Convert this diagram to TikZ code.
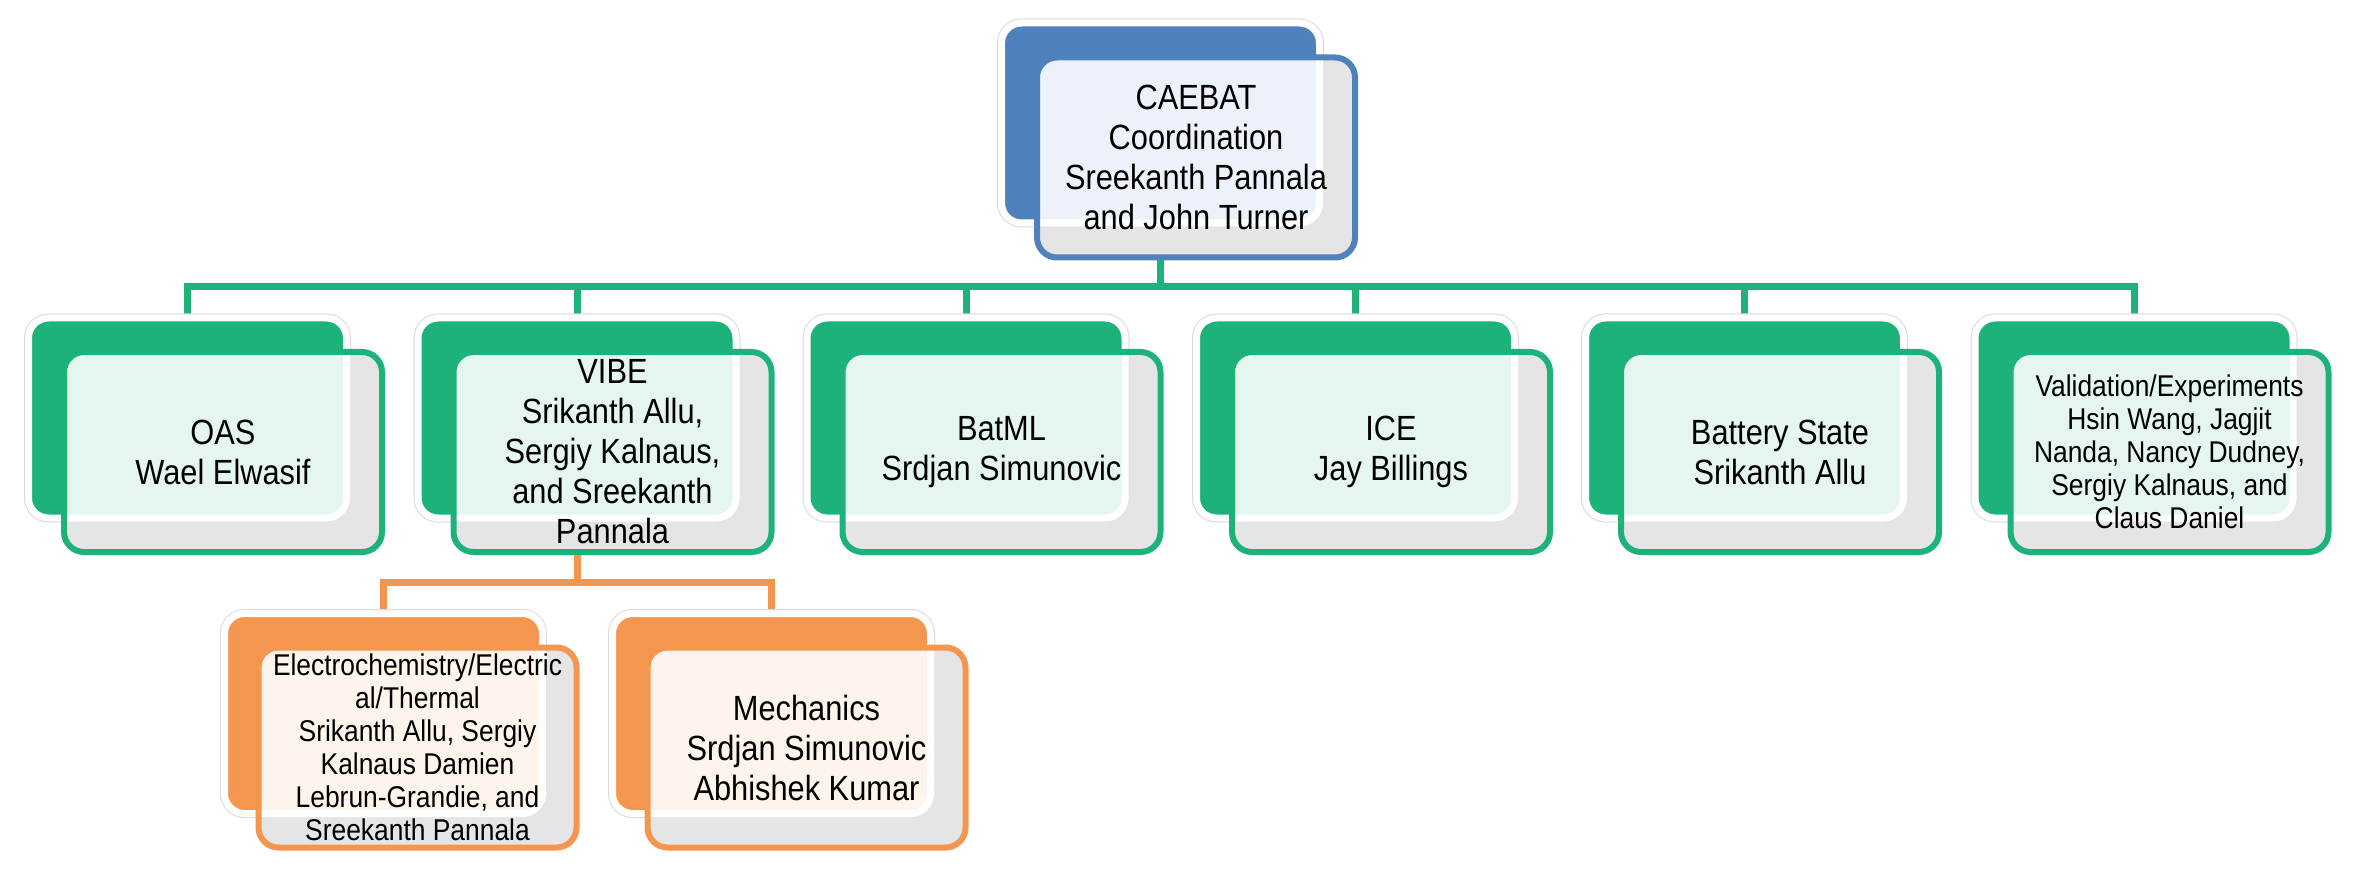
\documentclass[tikz,border=0pt]{standalone}
\usepackage{fontspec}
\setmainfont{Liberation Sans}[FakeStretch=0.88]
\usepackage{tikz}
\usetikzlibrary{
	backgrounds,
}
\definecolor{caeblue}{RGB}{79,129,189}
\definecolor{caegreen}{RGB}{29,178,122}
\definecolor{caeorange}{RGB}{244,150,80}
\definecolor{bluetint}{RGB}{237,241,249}
\definecolor{greentint}{RGB}{228,246,239}
\definecolor{orangetint}{RGB}{253,244,235}
\definecolor{boxgray}{RGB}{229,229,229}

\begin{document}
\begin{tikzpicture}[
		x=1pt, y=-1pt,
		backbox/.style={
				minimum width=318pt, minimum height=200pt,
				inner sep=0pt, outer sep=0pt,
				rounded corners=20pt, line width=7pt,
				fill=#1, draw=white,
				preaction={draw=black!15, line width=9pt},
			},
		frontbox/.style n args={3}{
				minimum width=318pt, minimum height=200pt,
				inner sep=0pt, outer sep=0pt,
				rounded corners=20pt, line width=6pt,
				fill=boxgray, draw=#1, align=center,
				path picture={
						\draw[draw=white, line width=7pt, fill=#2, rounded corners=20pt]
						(#3.south west) rectangle (#3.north east);
					},
			},
		conn/.style={draw=#1, line width=7pt},
		bigtext/.style={font=\fontsize{35}{40}\selectfont},
		smalltext/.style={font=\fontsize{30}{33}\selectfont},
	]
	\useasboundingbox (0,0) rectangle (2358,874);

	% top level
	\node[backbox=caeblue] (caebat-bk) at (1160.5,123) {};
	\node[frontbox={caeblue}{bluetint}{caebat-bk}, bigtext] (caebat) at ([shift={(35.5,34.5)}]caebat-bk)
	{CAEBAT\\Coordination\\Sreekanth Pannala\\and John Turner};

	% second level
	\node[backbox=caegreen] (oas-bk) at (187.5,418) {};
	\node[frontbox={caegreen}{greentint}{oas-bk}, bigtext] (oas) at ([shift={(35.5,34)}]oas-bk)
	{OAS\\Wael Elwasif};

	\node[backbox=caegreen] (vibe-bk) at (577,418) {};
	\node[frontbox={caegreen}{greentint}{vibe-bk}, bigtext] (vibe) at ([shift={(35.5,34)}]vibe-bk)
	{VIBE\\Srikanth Allu,\\Sergiy Kalnaus,\\and Sreekanth\\Pannala};

	\node[backbox=caegreen] (batml-bk) at (966,418) {};
	\node[frontbox={caegreen}{greentint}{batml-bk}, bigtext] (batml) at ([shift={(35.5,34)}]batml-bk)
	{BatML\\Srdjan Simunovic};

	\node[backbox=caegreen] (ice-bk) at (1355.5,418) {};
	\node[frontbox={caegreen}{greentint}{ice-bk}, bigtext] (ice) at ([shift={(35.5,34)}]ice-bk)
	{ICE\\Jay Billings};

	\node[backbox=caegreen] (state-bk) at (1744.5,418) {};
	\node[frontbox={caegreen}{greentint}{state-bk}, bigtext] (state) at ([shift={(35.5,34)}]state-bk)
	{Battery State\\Srikanth Allu};

	\node[backbox=caegreen] (valid-bk) at (2134,418) {};
	\node[frontbox={caegreen}{greentint}{valid-bk}, smalltext] (valid) at ([shift={(35.5,34)}]valid-bk)
	{Validation/Experiments\\Hsin Wang, Jagjit\\Nanda, Nancy Dudney,\\Sergiy Kalnaus, and\\Claus Daniel};

	% third level
	\node[backbox=caeorange] (echem-bk) at (383.5,713.5) {};
	\node[frontbox={caeorange}{orangetint}{echem-bk}, smalltext] (echem) at ([shift={(34,34)}]echem-bk)
	{Electrochemistry/Electric\\al/Thermal\\Srikanth Allu, Sergiy\\Kalnaus Damien\\Lebrun-Grandie, and\\Sreekanth Pannala};

	\node[backbox=caeorange] (mech-bk) at (771.5,713.5) {};
	\node[frontbox={caeorange}{orangetint}{mech-bk}, bigtext] (mech) at ([shift={(35,34)}]mech-bk)
	{Mechanics\\Srdjan Simunovic\\Abhishek Kumar};

	% connectors
	\coordinate (bus) at (0,287);
	\coordinate (obus) at (0,582);
	\begin{scope}[on background layer]
		\draw[conn=caegreen] (caebat-bk.south) -- (caebat-bk.south |- bus) -| (oas-bk.north);
		\draw[conn=caegreen] (caebat-bk.south |- bus) -| (vibe-bk.north);
		\draw[conn=caegreen] (caebat-bk.south |- bus) -| (batml-bk.north);
		\draw[conn=caegreen] (caebat-bk.south |- bus) -| (ice-bk.north);
		\draw[conn=caegreen] (caebat-bk.south |- bus) -| (state-bk.north);
		\draw[conn=caegreen] (caebat-bk.south |- bus) -| (valid-bk.north);
		\draw[conn=caeorange] (vibe-bk.south) -- (vibe-bk.south |- obus) -| (echem-bk.north);
		\draw[conn=caeorange] (vibe-bk.south |- obus) -| (mech-bk.north);
	\end{scope}
\end{tikzpicture}
\end{document}
